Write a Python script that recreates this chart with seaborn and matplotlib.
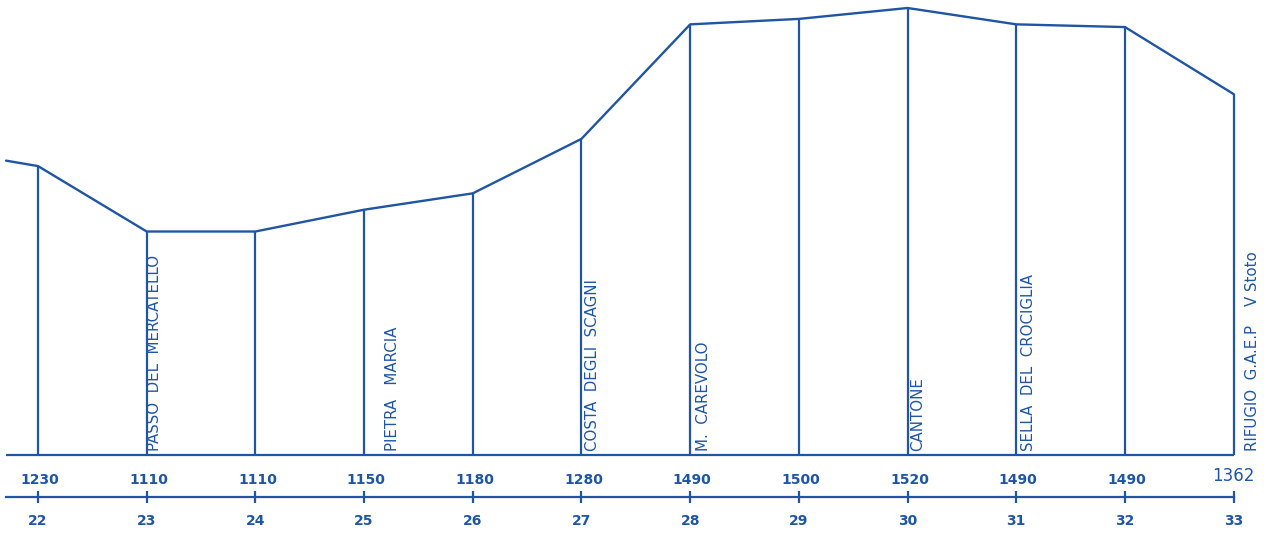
import numpy as np
import pandas as pd
import seaborn as sns
import matplotlib.pyplot as plt

# profile data (km along the route, altitude in m)
km = [22, 23, 24, 25, 26, 27, 28, 29, 30, 31, 32, 33]
quota = [1230, 1110, 1110, 1150, 1180, 1280, 1490, 1500, 1520, 1490, 1485, 1362]
quota_labels = ["1230", "1110", "1110", "1150", "1180", "1280", "1490",
                "1500", "1520", "1490", "1490", "1362"]
start_km = 21.706
start_quota = 1240
base_quota = 700

# place names along the route
place_km = [23, 25, 27, 28, 30, 31, 33]
place_names = ["PASSO  DEL  MERCATELLO", "PIETRA   MARCIA", "COSTA  DEGLI  SCAGNI",
               "M.  CAREVOLO", "CANTONE", "SELLA  DEL  CROCIGLIA",
               "RIFUGIO  G.A.E.P    V Stoto"]
place_dx = [8, 28, 11, 13, 10, 12, 19]   # px to the right of the vertical line

BLUE = "#1f55a3"
PX = 72 / 100  # points per pixel at dpi 100

sns.set_style("white")
plt.rcParams['font.family'] = ['DejaVu Sans']

fig = plt.figure(figsize=(12.64, 5.35), dpi=100)
ax = fig.add_axes([0, 38 / 535, 1, 497 / 535])

df = pd.DataFrame({"km": [start_km] + km, "quota": [start_quota] + quota})
sns.lineplot(data=df, x="km", y="quota", ax=ax, color=BLUE, lw=1.7)

# verticals and baseline
ax.vlines(km, base_quota, quota, color=BLUE, lw=1.6)
ax.hlines(base_quota, start_km, km[-1], color=BLUE, lw=1.6)

# altitude labels
for k, lab in zip(km, quota_labels):
    if lab == "1362":
        ax.annotate(lab, (k, base_quota), xytext=(0, -21 * PX), textcoords="offset points",
                    ha="center", va="center", fontsize=12, color=BLUE)
    else:
        ax.annotate(lab, (k, base_quota), xytext=(2 * PX, -25 * PX), textcoords="offset points",
                    ha="center", va="center", fontsize=10, fontweight="bold", color=BLUE)

# place names
for k, name, dx in zip(place_km, place_names, place_dx):
    ax.annotate(name, (k, base_quota), xytext=(dx * PX, 4 * PX), textcoords="offset points",
                ha="center", va="bottom", rotation=90, fontsize=10.8, color=BLUE)

ax.set_xlim(22 - 38 / 108.7, 22 + 1226 / 108.7)
ax.set_ylim(base_quota - 42 / 0.5451, 1520 + 8 / 0.5451)

ax.set_xticks(km)
ax.set_xticklabels([str(k) for k in km])
ax.tick_params(axis="x", bottom=True, direction="inout", length=8, width=1.6, color=BLUE,
               labelcolor=BLUE, labelsize=10, pad=8)
for t in ax.get_xticklabels():
    t.set_fontweight("bold")
ax.set_yticks([])
ax.set_xlabel("")
ax.set_ylabel("")
for s in ["top", "left", "right"]:
    ax.spines[s].set_visible(False)
ax.spines["bottom"].set_color(BLUE)
ax.spines["bottom"].set_linewidth(1.6)
ax.spines["bottom"].set_bounds(start_km, km[-1])

fig.savefig("out.png", dpi=100, facecolor="white")
